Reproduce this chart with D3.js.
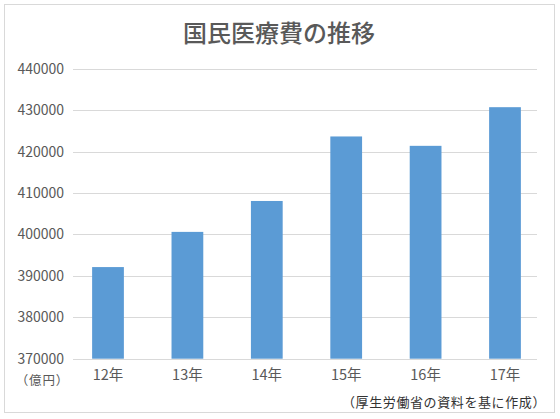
<!DOCTYPE html>
<html lang="ja">
<head>
<meta charset="utf-8">
<title>国民医療費の推移</title>
<script src="https://d3js.org/d3.v7.min.js"></script>
<style>
  body { margin: 0; background: #fff; }
  text { font-family: "Noto Sans CJK JP", "Noto Sans", sans-serif; }
</style>
</head>
<body>
<script>
// data (億円)
var years = ["12年", "13年", "14年", "15年", "16年", "17年"];
var costs = [392117, 400610, 408071, 423644, 421381, 430710];
var yTicks = [370000, 380000, 390000, 400000, 410000, 420000, 430000, 440000];

var width = 560, height = 419;

var svg = d3.select("body").append("svg")
    .attr("width", width)
    .attr("height", height);

// chart frame
svg.append("rect")
    .attr("x", 4.5).attr("y", 4.5)
    .attr("width", 550).attr("height", 408)
    .attr("fill", "#fff")
    .attr("stroke", "#d9d9d9");

svg.append("text")
    .attr("x", 279).attr("y", 42)
    .attr("text-anchor", "middle")
    .attr("font-size", 24)
    .attr("font-weight", 500)
    .attr("fill", "#595959")
    .text("国民医療費の推移");

var x = d3.scaleBand()
    .domain(years)
    .range([68.3, 544.7])
    .paddingInner(0.6)
    .paddingOuter(0.3);

var y = d3.scaleLinear()
    .domain([370000, 440000])
    .range([358.7, 68.7]);

// gridlines
svg.append("g")
    .selectAll("line")
    .data(yTicks)
    .join("line")
    .attr("x1", 73).attr("x2", 537)
    .attr("y1", function(d) { return Math.round(y(d)) + 0.5; })
    .attr("y2", function(d) { return Math.round(y(d)) + 0.5; })
    .attr("stroke", "#d9d9d9")
    .attr("stroke-width", 1.2);

// y labels
var yAxis = d3.axisLeft(y).tickValues(yTicks).tickSize(0).tickPadding(0)
    .tickFormat(d3.format("d"));
var gy = svg.append("g")
    .attr("transform", "translate(64,0)")
    .call(yAxis);
gy.select(".domain").remove();
gy.selectAll("text")
    .attr("font-size", 14)
    .attr("fill", "#595959")
    .style("font-family", "'Noto Sans CJK JP', sans-serif");

// bars
svg.append("g")
    .selectAll("rect")
    .data(costs)
    .join("rect")
    .attr("x", function(d, i) { return x(years[i]); })
    .attr("width", x.bandwidth())
    .attr("y", function(d) { return y(d); })
    .attr("height", function(d) { return y(370000) - y(d); })
    .attr("fill", "#5b9bd5");

// x labels
var xAxis = d3.axisBottom(x).tickSize(0).tickPadding(0);
var gx = svg.append("g")
    .attr("transform", "translate(0,370)")
    .call(xAxis);
gx.select(".domain").remove();
gx.selectAll("text")
    .attr("font-size", 14.5)
    .attr("fill", "#595959")
    .style("font-family", "'Noto Sans CJK JP', sans-serif");

svg.append("text")
    .attr("x", 69).attr("y", 385)
    .attr("text-anchor", "end")
    .attr("font-size", 12.5)
    .attr("letter-spacing", 0.8)
    .attr("fill", "#595959")
    .text("（億円）");

svg.append("text")
    .attr("x", 546).attr("y", 407)
    .attr("text-anchor", "end")
    .attr("font-size", 13)
    .attr("letter-spacing", 0.6)
    .attr("fill", "#333")
    .text("（厚生労働省の資料を基に作成）");
</script>
</body>
</html>
